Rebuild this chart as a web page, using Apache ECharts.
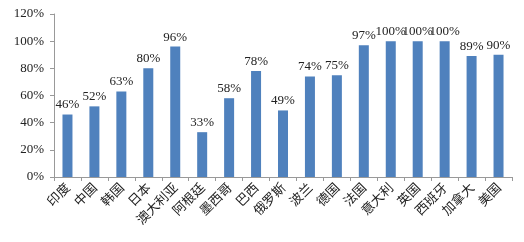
<!DOCTYPE html>
<html><head><meta charset="utf-8">
<script src="https://cdn.jsdelivr.net/npm/echarts@6/dist/echarts.min.js"></script>
<style>html,body{margin:0;padding:0;background:#fff}#c{width:524px;height:242px}</style>
</head><body><div id="c"></div>
<script>
const categories = ['印度','中国','韩国','日本','澳大利亚','阿根廷','墨西哥','巴西','俄罗斯','波兰','德国','法国','意大利','英国','西班牙','加拿大','美国'];
const values = [46,52,63,80,96,33,58,78,49,74,75,97,100,100,100,89,90];
const yTicks = [0,20,40,60,80,100,120];
const chart = echarts.init(document.getElementById('c'));
chart.setOption({
  animation:false,
  grid:{left:54,right:12,top:14,bottom:65},
  xAxis:{type:'category',data:categories,
    axisLine:{lineStyle:{color:'#999'}},
    axisTick:{show:true,alignWithLabel:false,length:4,lineStyle:{color:'#999'}},
    axisLabel:{rotate:45,interval:0,color:'#222',fontSize:13,fontFamily:'Noto Sans CJK SC',margin:8}},
  yAxis:{type:'value',min:yTicks[0],max:yTicks[yTicks.length-1],interval:20,
    axisLine:{show:true,lineStyle:{color:'#999'}},
    axisTick:{show:true,length:4,lineStyle:{color:'#999'}},
    splitLine:{show:false},
    axisLabel:{formatter:'{value}%',color:'#222',fontSize:13,fontFamily:'Liberation Serif',margin:10}},
  series:[{type:'bar',data:values,barWidth:10,itemStyle:{color:'#4F81BD'},
    label:{show:true,position:'top',formatter:'{c}%',color:'#222',fontSize:13,fontFamily:'Liberation Serif',distance:3}}]
});
</script></body></html>
